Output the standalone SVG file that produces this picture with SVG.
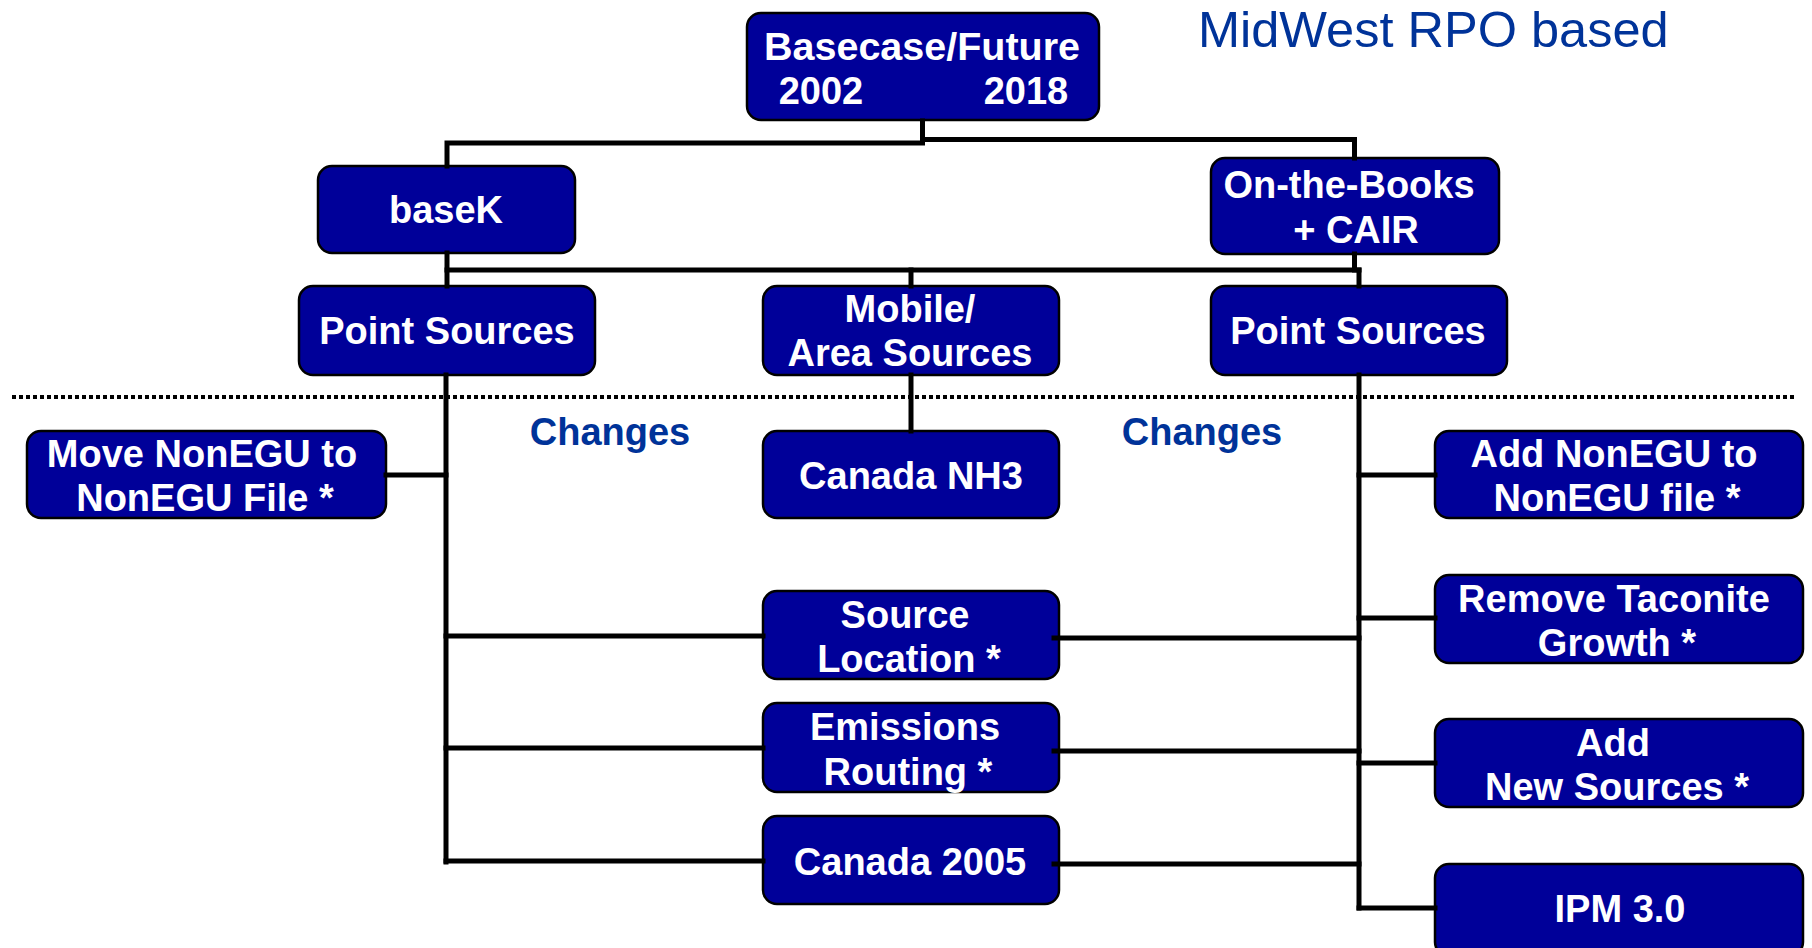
<svg xmlns="http://www.w3.org/2000/svg" width="1812" height="948" viewBox="0 0 1812 948">
<style>
.box{fill:#000099;stroke:#000;stroke-width:2.5}
.t{font-family:"Liberation Sans",Arial,sans-serif;font-weight:bold;font-size:38px;fill:#fff;text-anchor:middle}
.lbl{font-family:"Liberation Sans",Arial,sans-serif;font-weight:bold;font-size:38px;fill:#003399;text-anchor:middle}
.title{font-family:"Liberation Sans",Arial,sans-serif;font-size:50.5px;fill:#003399}
.c{stroke:#000;stroke-width:5;fill:none;stroke-linecap:square}
</style>
<rect width="1812" height="948" fill="#fff"/>
<text class="title" x="1198" y="47">MidWest RPO based</text>
<line x1="12" y1="397" x2="1797" y2="397" stroke="#000" stroke-width="4" stroke-dasharray="4 3"/>
<text class="lbl" x="610" y="445">Changes</text>
<text class="lbl" x="1202" y="445">Changes</text>

<g id="nodes">
<g id="basecase"><rect class="box" x="747" y="13" width="352" height="107" rx="14"/>
<text class="t" x="922" y="60" textLength="316" lengthAdjust="spacingAndGlyphs">Basecase/Future</text>
<text class="t" x="821" y="104">2002</text><text class="t" x="1026" y="104">2018</text></g>
<g id="basek"><rect class="box" x="318" y="166" width="257" height="87" rx="14"/>
<text class="t" x="446" y="223">baseK</text></g>
<g id="otb"><rect class="box" x="1211" y="158" width="288" height="96" rx="14"/>
<text class="t" x="1349" y="198">On-the-Books</text><text class="t" x="1356" y="243">+ CAIR</text></g>
<g id="ps-left"><rect class="box" x="299" y="286" width="296" height="89" rx="14"/>
<text class="t" x="447" y="344">Point Sources</text></g>
<g id="mobile"><rect class="box" x="763" y="286" width="296" height="89" rx="14"/>
<text class="t" x="910" y="322">Mobile/</text><text class="t" x="910" y="366">Area Sources</text></g>
<g id="ps-right"><rect class="box" x="1211" y="286" width="296" height="89" rx="14"/>
<text class="t" x="1358" y="344">Point Sources</text></g>
<g id="move-nonegu"><rect class="box" x="27" y="431" width="359" height="87" rx="14"/>
<text class="t" x="202" y="467">Move NonEGU to</text><text class="t" x="205" y="511">NonEGU File *</text></g>
<g id="canada-nh3"><rect class="box" x="763" y="431" width="296" height="87" rx="14"/>
<text class="t" x="911" y="489">Canada NH3</text></g>
<g id="source-location"><rect class="box" x="763" y="591" width="296" height="88" rx="14"/>
<text class="t" x="905" y="628">Source</text><text class="t" x="909" y="672">Location *</text></g>
<g id="emissions-routing"><rect class="box" x="763" y="703" width="296" height="89" rx="14"/>
<text class="t" x="905" y="740">Emissions</text><text class="t" x="908" y="785">Routing *</text></g>
<g id="canada-2005"><rect class="box" x="763" y="816" width="296" height="88" rx="14"/>
<text class="t" x="910" y="875">Canada 2005</text></g>
<g id="add-nonegu"><rect class="box" x="1435" y="431" width="368" height="87" rx="14"/>
<text class="t" x="1614" y="467">Add NonEGU to</text><text class="t" x="1617" y="511">NonEGU file *</text></g>
<g id="remove-taconite"><rect class="box" x="1435" y="575" width="368" height="88" rx="14"/>
<text class="t" x="1614" y="612">Remove Taconite</text><text class="t" x="1617" y="656">Growth *</text></g>
<g id="add-new"><rect class="box" x="1435" y="719" width="368" height="88" rx="14"/>
<text class="t" x="1613" y="756">Add</text><text class="t" x="1617" y="800">New Sources *</text></g>
<g id="ipm"><rect class="box" x="1435" y="864" width="368" height="92" rx="14"/>
<text class="t" x="1620" y="922">IPM 3.0</text></g>
</g>

<g id="connectors">
<polyline class="c" points="922.5,121 922.5,143 447,143 447,166"/>
<polyline class="c" points="922.5,139.5 1354.5,139.5 1354.5,158"/>
<line class="c" x1="447" y1="253" x2="447" y2="286"/>
<line class="c" x1="1354.5" y1="254" x2="1354.5" y2="270"/>
<line class="c" x1="447" y1="270" x2="1359" y2="270" stroke-width="6"/>
<line class="c" x1="1359" y1="270" x2="1359" y2="286"/>
<line class="c" x1="911" y1="270" x2="911" y2="286"/>
<line class="c" x1="446" y1="375" x2="446" y2="862"/>
<line class="c" x1="386" y1="475" x2="446" y2="475"/>
<line class="c" x1="446" y1="636" x2="763" y2="636"/>
<line class="c" x1="446" y1="748" x2="763" y2="748"/>
<line class="c" x1="446" y1="861" x2="763" y2="861"/>
<line class="c" x1="911" y1="375" x2="911" y2="431"/>
<line class="c" x1="1359" y1="375" x2="1359" y2="908"/>
<line class="c" x1="1359" y1="475" x2="1435" y2="475"/>
<line class="c" x1="1359" y1="618" x2="1435" y2="618"/>
<line class="c" x1="1359" y1="763" x2="1435" y2="763"/>
<line class="c" x1="1359" y1="908" x2="1435" y2="908"/>
<line class="c" x1="1054" y1="638" x2="1359" y2="638"/>
<line class="c" x1="1054" y1="751" x2="1359" y2="751"/>
<line class="c" x1="1054" y1="864" x2="1359" y2="864"/>
</g>
</svg>
